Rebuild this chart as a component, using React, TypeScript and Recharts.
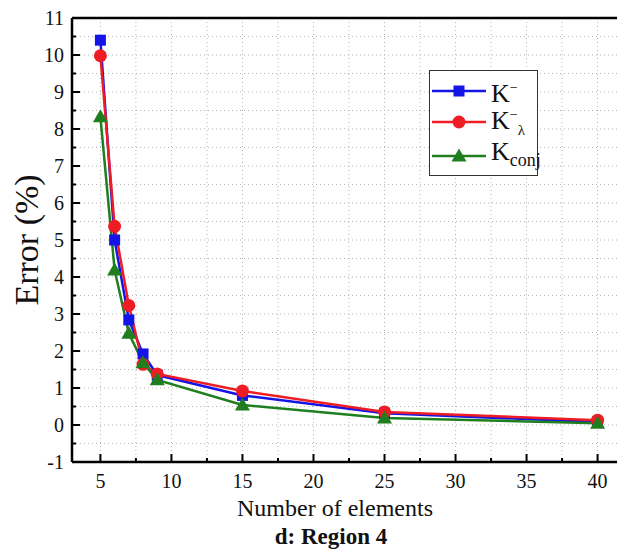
import { LineChart, Line, XAxis, YAxis, CartesianGrid, Legend, ReferenceLine } from "recharts";

const FONT = '"Liberation Serif", "Times New Roman", serif';

const elements = [5, 6, 7, 8, 9, 15, 25, 40];
const kMinus = [10.4, 5.0, 2.84, 1.92, 1.35, 0.8, 0.32, 0.08];
const kLambda = [9.98, 5.37, 3.23, 1.64, 1.38, 0.92, 0.35, 0.13];
const kConj = [8.33, 4.19, 2.48, 1.68, 1.22, 0.54, 0.19, 0.05];

const xTicks = [5, 7.5, 10, 12.5, 15, 17.5, 20, 22.5, 25, 27.5, 30, 32.5, 35, 37.5, 40];
const yTicks = [
  -1, -0.5, 0, 0.5, 1, 1.5, 2, 2.5, 3, 3.5, 4, 4.5, 5, 5.5, 6, 6.5, 7, 7.5, 8, 8.5, 9, 9.5, 10, 10.5, 11,
];

const BLUE = "#1414e6";
const RED = "#ee1c25";
const GREEN = "#1f7f1f";

const data = elements.map((n, i) => ({
  n,
  kMinus: kMinus[i],
  kLambda: kLambda[i],
  kConj: kConj[i],
}));

function Square({ cx, cy, color }: any) {
  return <rect x={cx - 5.5} y={cy - 5.5} width={11} height={11} fill={color} />;
}

function Circle({ cx, cy, color }: any) {
  return <circle cx={cx} cy={cy} r={6.5} fill={color} />;
}

function Triangle({ cx, cy, color }: any) {
  return <polygon points={`${cx},${cy - 7.5} ${cx - 7.5},${cy + 5.5} ${cx + 7.5},${cy + 5.5}`} fill={color} />;
}

const series = [
  { key: "kMinus", color: BLUE, Marker: Square, label: <>K<sup style={{ fontSize: 14 }}>−</sup></> },
  {
    key: "kLambda",
    color: RED,
    Marker: Circle,
    label: (
      <>
        K<sup style={{ fontSize: 14 }}>−</sup>
        <sub style={{ fontSize: 15 }}>λ</sub>
      </>
    ),
  },
  { key: "kConj", color: GREEN, Marker: Triangle, label: <>K<sub style={{ fontSize: 18 }}>conj</sub></> },
];

function XTick(props: any) {
  const { x, y, payload } = props;
  const v = payload.value;
  const major = v % 5 === 0;
  return (
    <g>
      <line x1={x} x2={x} y1={y} y2={y - (major ? 8 : 4)} stroke="#000" strokeWidth={2} />
      {major && (
        <text x={x} y={y + 12} dy="0.71em" textAnchor="middle" fontSize={20} fontFamily={FONT} fill="#111">
          {v}
        </text>
      )}
    </g>
  );
}

function YTick(props: any) {
  const { x, y, payload } = props;
  const v = payload.value;
  const major = Number.isInteger(v);
  return (
    <g>
      <line x1={x} x2={x + (major ? 8 : 4)} y1={y} y2={y} stroke="#000" strokeWidth={2} />
      {major && (
        <text x={x - 8} y={y} dy="0.355em" textAnchor="end" fontSize={20} fontFamily={FONT} fill="#111">
          {v}
        </text>
      )}
    </g>
  );
}

function YLabel(props: any) {
  const vb = props.viewBox;
  const cx = vb.x + 26;
  const cy = vb.y + vb.height / 2;
  return (
    <text
      x={cx}
      y={cy}
      transform={`rotate(-90, ${cx}, ${cy})`}
      textAnchor="middle"
      dominantBaseline="central"
      fontSize={34}
      fontFamily={FONT}
      fill="#111"
    >
      Error (%)
    </text>
  );
}

function LegendBox() {
  const tops = [4, 35, 69];
  return (
    <div
      style={{
        position: "relative",
        width: 107,
        height: 104,
        border: "1px solid #333",
        background: "#fff",
        fontFamily: FONT,
        color: "#111",
      }}
    >
      {series.map((s, i) => (
        <div
          key={s.key}
          style={{ position: "absolute", left: 2, top: tops[i], height: 32, display: "flex", alignItems: "center" }}
        >
          <svg width={54} height={20}>
            <line x1={0} x2={54} y1={10} y2={10} stroke={s.color} strokeWidth={2.5} />
            <s.Marker cx={27} cy={10} color={s.color} />
          </svg>
          <span style={{ fontSize: 26, marginLeft: 5, lineHeight: "26px", fontFamily: FONT }}>{s.label}</span>
        </div>
      ))}
    </div>
  );
}

export default function App() {
  return (
    <div
      style={{
        position: "absolute",
        left: 0,
        top: 0,
        width: 617,
        height: 557,
        overflow: "hidden",
        background: "#fff",
        fontFamily: FONT,
      }}
    >
      <LineChart width={640} height={557} data={data} margin={{ top: 18, right: 14, left: 0, bottom: 0 }}>
        <CartesianGrid strokeDasharray="1 3" stroke="#b4b4b4" />
        <XAxis
          type="number"
          dataKey="n"
          domain={[3, 42]}
          ticks={xTicks}
          interval={0}
          height={95}
          tickSize={0}
          tickMargin={0}
          tick={(p: any) => <XTick {...p} />}
          axisLine={{ stroke: "#000", strokeWidth: 2.5 }}
          tickLine={false}
          label={{
            value: "Number of elements",
            position: "insideTop",
            offset: 37,
            dx: -14,
            style: { fontSize: 24, fontFamily: FONT, fill: "#111" },
          }}
        />
        <YAxis
          type="number"
          domain={[-1, 11]}
          ticks={yTicks}
          interval={0}
          width={72}
          tickSize={0}
          tickMargin={0}
          tick={(p: any) => <YTick {...p} />}
          axisLine={{ stroke: "#000", strokeWidth: 2.5 }}
          tickLine={false}
          label={<YLabel />}
        />
        <ReferenceLine y={11} stroke="#000" strokeWidth={2.5} />
        <Legend
          layout="vertical"
          align="center"
          verticalAlign="middle"
          content={() => <LegendBox />}
          wrapperStyle={{ left: 429, top: 70, width: 109, height: 106 }}
        />
        {series.map((s) => (
          <Line
            key={s.key}
            type="linear"
            dataKey={s.key}
            stroke={s.color}
            strokeWidth={2.5}
            dot={(p: any) => <s.Marker key={`${s.key}-${p.index}`} cx={p.cx} cy={p.cy} color={s.color} />}
            activeDot={false}
            isAnimationActive={false}
          />
        ))}
      </LineChart>
      <div
        style={{
          position: "absolute",
          left: 231,
          top: 524,
          width: 200,
          textAlign: "center",
          fontWeight: "bold",
          fontSize: 23,
          color: "#111",
        }}
      >
        d: Region 4
      </div>
    </div>
  );
}
